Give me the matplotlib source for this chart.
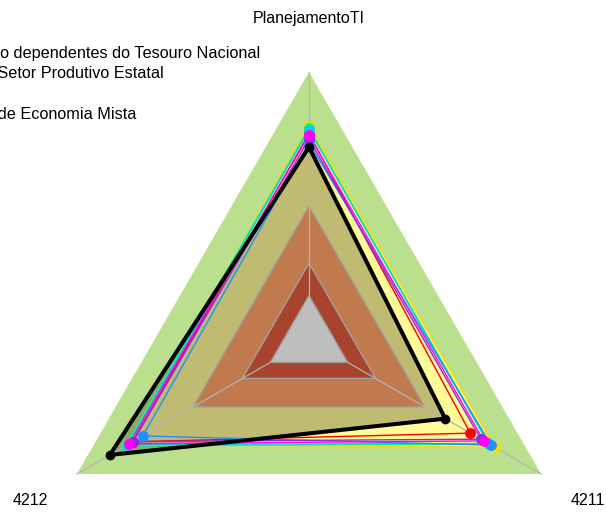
import numpy as np
import matplotlib
matplotlib.use('Agg')
import matplotlib.pyplot as plt

plt.rcParams['font.family'] = ['Liberation Sans', 'DejaVu Sans']

# axis names, clockwise from the top
axis_names = ['PlanejamentoTI', '4211', '4212']
axis_angles = [90, -30, 210]

# background bands (outer to inner)
band_levels = [1.0, 0.5, 0.287, 0.166]
band_colors = ['#BBE08D', '#C17A4E', '#A8432D', '#BEBEBE']

# series values, same order as axis_names
series_colors = ['#FF0000', '#FFD700', '#00FF7F', '#00D0E0', '#1E90FF', '#8A2BE2', '#FF00FF']
series_values = [
    [0.77, 0.695, 0.76],
    [0.80, 0.80, 0.78],
    [0.79, 0.775, 0.79],
    [0.785, 0.772, 0.78],
    [0.735, 0.785, 0.716],
    [0.75, 0.74, 0.758],
    [0.765, 0.753, 0.774],
]
black_values = [0.72, 0.587, 0.858]

legend_labels = ['Empresas não dependentes do Tesouro Nacional',
                 'Empresas do Setor Produtivo Estatal',
                 'Autarquias',
                 'Sociedades de Economia Mista']

ang = np.deg2rad(axis_angles)


def to_xy(vals):
    vals = np.asarray(vals, dtype=float)
    x = vals * np.cos(ang)
    y = vals * np.sin(ang)
    return np.append(x, x[0]), np.append(y, y[0])


W, H = 606, 513
fig = plt.figure(figsize=(W / 100, H / 100), dpi=100)
ax = fig.add_axes([0, 0, 1, 1])
ax.axis('off')
R = 268.0
cx, cy = 309.0, 340.0
ax.set_xlim(-cx / R, (W - cx) / R)
ax.set_ylim(-(H - cy) / R, cy / R)

# outer green band
x, y = to_xy([band_levels[0]] * 3)
ax.fill(x, y, color=band_colors[0], lw=0, zorder=1)

# yellow series fill and dark translucent fill of the black series
x, y = to_xy(series_values[1])
ax.fill(x, y, color='#FFFB98', lw=0, zorder=2)
x, y = to_xy(black_values)
ax.fill(x, y, color='black', alpha=0.25, lw=0, zorder=3)

# inner bands
for lev, col in zip(band_levels[1:], band_colors[1:]):
    x, y = to_xy([lev] * 3)
    ax.fill(x, y, facecolor=col, edgecolor='#A0A0A0', lw=1, zorder=4)

# spokes
for a in ang:
    ax.plot([band_levels[-1] * np.cos(a), np.cos(a)], [band_levels[-1] * np.sin(a), np.sin(a)],
            color='#B4B4B4', lw=0.9, zorder=5)

# series
for vals, col in zip(series_values, series_colors):
    x, y = to_xy(vals)
    ax.plot(x, y, color=col, lw=1, zorder=6)
    ax.plot(x[:-1], y[:-1], 'o', color=col, ms=6.8, zorder=7)

x, y = to_xy(black_values)
ax.plot(x, y, color='black', lw=2.9, zorder=8)
ax.plot(x[:-1], y[:-1], 'o', color='black', ms=6, zorder=8)

# axis labels
for name, a in zip(axis_names, ang):
    ax.text(1.2 * np.cos(a), 1.2 * np.sin(a), name, ha='center', va='center', fontsize=11.5)

# legend text (starts off the left edge, as in the original)
legend_left = [-96, -103, -95, -92]
for i, lab in enumerate(legend_labels):
    fig.text(legend_left[i] / W, 1 - (58 + 20.4 * i) / H, lab, ha='left', va='baseline', fontsize=11.7)

fig.savefig('out.png', dpi=100)
